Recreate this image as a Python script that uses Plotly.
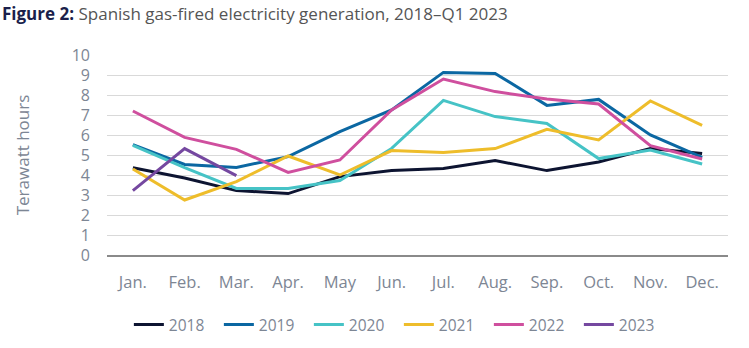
import plotly.graph_objects as go

months = ["Jan.", "Feb.", "Mar.", "Apr.", "May", "Jun.", "Jul.", "Aug.", "Sep.", "Oct.", "Nov.", "Dec."]

gen_2018 = [4.36, 3.85, 3.22, 3.07, 3.92, 4.23, 4.33, 4.72, 4.22, 4.65, 5.33, 5.07]
gen_2019 = [5.52, 4.53, 4.38, 4.92, 6.17, 7.25, 9.13, 9.08, 7.48, 7.78, 6.00, 4.88]
gen_2020 = [5.48, 4.37, 3.33, 3.32, 3.72, 5.33, 7.73, 6.92, 6.58, 4.82, 5.25, 4.55]
gen_2021 = [4.30, 2.75, 3.67, 4.95, 4.00, 5.22, 5.12, 5.32, 6.28, 5.75, 7.70, 6.48]
gen_2022 = [7.20, 5.88, 5.28, 4.13, 4.75, 7.25, 8.80, 8.17, 7.80, 7.55, 5.47, 4.80]
gen_2023 = [3.22, 5.32, 3.97]

series = [
    ("2018", gen_2018, "#0d1431"),
    ("2019", gen_2019, "#0b67a2"),
    ("2020", gen_2020, "#46c3c6"),
    ("2021", gen_2021, "#eebd2b"),
    ("2022", gen_2022, "#cf4f9e"),
    ("2023", gen_2023, "#7548a0"),
]

FONT = "Open Sans"
GREY = "#7d8694"

fig = go.Figure()
for name, vals, color in series:
    fig.add_trace(go.Scatter(
        x=months[:len(vals)], y=vals, name=name, mode="lines",
        line=dict(color=color, width=3),
    ))

fig.update_layout(
    width=749, height=348,
    margin=dict(l=107, r=21, t=55, b=93, autoexpand=False),
    paper_bgcolor="white", plot_bgcolor="white",
    font=dict(family=FONT, color=GREY, size=15),
    showlegend=True,
    legend=dict(
        orientation="h", x=0.47, xanchor="center", y=-0.35, yanchor="middle",
        font=dict(size=15.5, color=GREY), itemwidth=30, entrywidth=45,
        traceorder="normal",
    ),
    annotations=[dict(
        text="<b style='color:#1b1f4b'>Figure 2:</b> Spanish gas-fired electricity generation, 2018–Q1 2023",
        xref="paper", yref="paper", x=-107/621, y=1 + 42/200,
        xanchor="left", yanchor="middle", showarrow=False,
        font=dict(family=FONT, size=17, color="#555555"),
    )],
)

fig.update_xaxes(
    type="category", categoryorder="array", categoryarray=months,
    range=[-0.5, 11.5], showgrid=False, showline=True, automargin=False,
    linecolor="#8a8a8a", linewidth=1.5, ticks="",
    ticklabelstandoff=11, tickfont=dict(size=16.5, color=GREY),
)
fig.update_yaxes(
    range=[0, 10], dtick=1, showgrid=True, gridcolor="#d9d9d9", gridwidth=1,
    zeroline=False, showline=False, ticks="", ticklabelstandoff=16,
    automargin=False,
    tickfont=dict(size=16, color=GREY),
    title=dict(text="Terawatt hours", font=dict(size=17, color=GREY), standoff=37),
)

fig.write_html("out.html")
